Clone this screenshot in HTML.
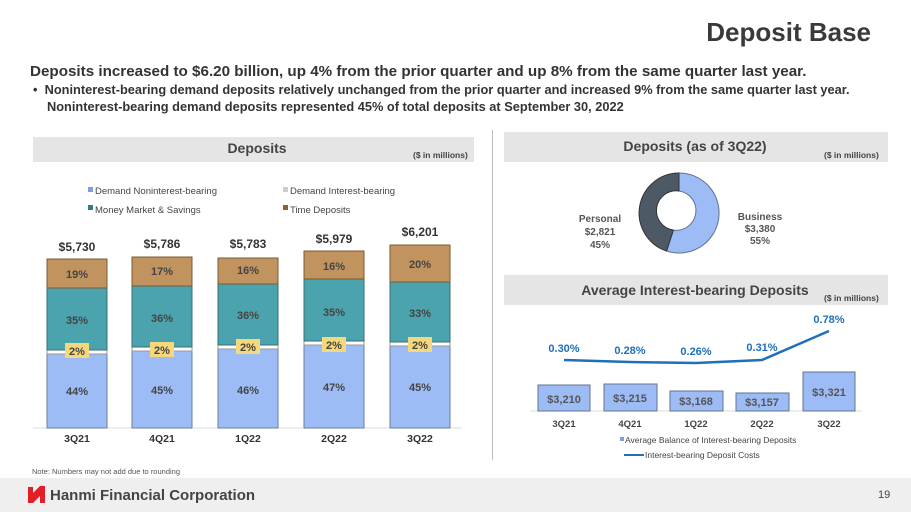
<!DOCTYPE html>
<html><head><meta charset="utf-8"><style>
body{margin:0;width:911px;height:512px;overflow:hidden;background:#fff;font-family:"Liberation Sans",Arial,sans-serif;position:relative}
.a{position:absolute;white-space:nowrap}
</style></head><body>
<div class="a" style="right:40px;top:17px;font-size:26px;font-weight:bold;color:#3a3a3a">Deposit Base</div>
<div class="a" style="left:30px;top:63px;font-size:15.2px;font-weight:bold;color:#333">Deposits increased to $6.20 billion, up 4% from the prior quarter and up 8% from the same quarter last year.</div>
<div class="a" style="left:33px;top:81px;font-size:12.8px;font-weight:bold;color:#333;white-space:normal;width:840px;line-height:17px;padding-left:14px;text-indent:-14px">•&nbsp;&nbsp;Noninterest-bearing demand deposits relatively unchanged from the prior quarter and increased 9% from the same quarter last year. Noninterest-bearing demand deposits represented 45% of total deposits at September 30, 2022</div>
<div class="a" style="left:492px;top:130px;width:1px;height:330px;background:#bbb"></div>
<svg class="a" style="left:0;top:0" width="911" height="512" font-family="Liberation Sans,Arial,sans-serif">
<rect x="33" y="137" width="441" height="25" fill="#e5e5e5"/>
<text x="257" y="153" text-anchor="middle" font-size="14" font-weight="bold" fill="#444">Deposits</text>
<text x="413" y="158" font-size="8.5" font-weight="bold" fill="#444">($ in millions)</text>
<rect x="504" y="132" width="384" height="30" fill="#e5e5e5"/>
<text x="695" y="151" text-anchor="middle" font-size="14" font-weight="bold" fill="#444">Deposits (as of 3Q22)</text>
<text x="824" y="158" font-size="8.5" font-weight="bold" fill="#444">($ in millions)</text>
<rect x="504" y="275" width="384" height="30" fill="#e5e5e5"/>
<text x="695" y="295" text-anchor="middle" font-size="14" font-weight="bold" fill="#444">Average Interest-bearing Deposits</text>
<text x="824" y="301" font-size="8.5" font-weight="bold" fill="#444">($ in millions)</text>
<g font-size="9.5" fill="#444">
<rect x="88" y="187" width="5" height="5" fill="#7f9fd8"/><text x="95" y="194">Demand Noninterest-bearing</text>
<rect x="283" y="187" width="5" height="5" fill="#ccc"/><text x="290" y="194">Demand Interest-bearing</text>
<rect x="88" y="205" width="5" height="5" fill="#2f7f8a"/><text x="95" y="213">Money Market &amp; Savings</text>
<rect x="283" y="205" width="5" height="5" fill="#8b6238"/><text x="290" y="213">Time Deposits</text>
</g>
<line x1="33" y1="428" x2="462" y2="428" stroke="#ddd"/>
<g font-size="11" font-weight="bold" fill="#444" text-anchor="middle">
<g>
<rect x="47" y="354" width="60" height="74" fill="#9dbcf5" stroke="#6a7f9a"/>
<rect x="47" y="350" width="60" height="4" fill="#fff" stroke="#999"/>
<rect x="47" y="288" width="60" height="62" fill="#4ba3ad" stroke="#3a6f77"/>
<rect x="47" y="259" width="60" height="29" fill="#c0935f" stroke="#7a5a35"/>
<text x="77" y="395">44%</text><text x="77" y="324">35%</text><text x="77" y="278">19%</text>
<rect x="65" y="343" width="24" height="15" fill="#f5d77c"/><text x="77" y="355">2%</text>
<text x="77" y="251" font-size="12" fill="#333">$5,730</text>
</g>
<g>
<rect x="132" y="351" width="60" height="77" fill="#9dbcf5" stroke="#6a7f9a"/>
<rect x="132" y="347" width="60" height="4" fill="#fff" stroke="#999"/>
<rect x="132" y="286" width="60" height="61" fill="#4ba3ad" stroke="#3a6f77"/>
<rect x="132" y="257" width="60" height="29" fill="#c0935f" stroke="#7a5a35"/>
<text x="162" y="394">45%</text><text x="162" y="322">36%</text><text x="162" y="275">17%</text>
<rect x="150" y="342" width="24" height="15" fill="#f5d77c"/><text x="162" y="354">2%</text>
<text x="162" y="248" font-size="12" fill="#333">$5,786</text>
</g>
<g>
<rect x="218" y="349" width="60" height="79" fill="#9dbcf5" stroke="#6a7f9a"/>
<rect x="218" y="345" width="60" height="4" fill="#fff" stroke="#999"/>
<rect x="218" y="284" width="60" height="61" fill="#4ba3ad" stroke="#3a6f77"/>
<rect x="218" y="258" width="60" height="26" fill="#c0935f" stroke="#7a5a35"/>
<text x="248" y="394">46%</text><text x="248" y="319">36%</text><text x="248" y="274">16%</text>
<rect x="236" y="339" width="24" height="15" fill="#f5d77c"/><text x="248" y="351">2%</text>
<text x="248" y="248" font-size="12" fill="#333">$5,783</text>
</g>
<g>
<rect x="304" y="345" width="60" height="83" fill="#9dbcf5" stroke="#6a7f9a"/>
<rect x="304" y="341" width="60" height="4" fill="#fff" stroke="#999"/>
<rect x="304" y="279" width="60" height="62" fill="#4ba3ad" stroke="#3a6f77"/>
<rect x="304" y="251" width="60" height="28" fill="#c0935f" stroke="#7a5a35"/>
<text x="334" y="391">47%</text><text x="334" y="316">35%</text><text x="334" y="270">16%</text>
<rect x="322" y="337" width="24" height="15" fill="#f5d77c"/><text x="334" y="349">2%</text>
<text x="334" y="243" font-size="12" fill="#333">$5,979</text>
</g>
<g>
<rect x="390" y="346" width="60" height="82" fill="#9dbcf5" stroke="#6a7f9a"/>
<rect x="390" y="342" width="60" height="4" fill="#fff" stroke="#999"/>
<rect x="390" y="282" width="60" height="60" fill="#4ba3ad" stroke="#3a6f77"/>
<rect x="390" y="245" width="60" height="37" fill="#c0935f" stroke="#7a5a35"/>
<text x="420" y="391">45%</text><text x="420" y="317">33%</text><text x="420" y="268">20%</text>
<rect x="408" y="337" width="24" height="15" fill="#f5d77c"/><text x="420" y="349">2%</text>
<text x="420" y="236" font-size="12" fill="#333">$6,201</text>
</g>
<g font-size="10.5" fill="#333"><text x="77" y="442">3Q21</text><text x="162" y="442">4Q21</text><text x="248" y="442">1Q22</text><text x="334" y="442">2Q22</text><text x="420" y="442">3Q22</text></g>
</g>
<path d="M679 173 A40 40 0 1 1 666.6 251 L673.4 230.1 A18 18 0 1 0 679 191 Z" fill="#9dbcf5" stroke="#5f7390"/>
<path d="M666.6 251 A40 40 0 0 1 679 173 L679 191 A18 18 0 0 0 673.4 230.1 Z" fill="#4d5a66" stroke="#333"/>
<g font-size="10" font-weight="bold" fill="#555" text-anchor="middle">
<text x="600" y="222">Personal</text><text x="600" y="235">$2,821</text><text x="600" y="248">45%</text>
<text x="760" y="220">Business</text><text x="760" y="232">$3,380</text><text x="760" y="244">55%</text>
</g>
<line x1="530" y1="411" x2="862" y2="411" stroke="#ddd"/>
<g fill="#9dbcf5" stroke="#5f7390">
<rect x="538" y="385" width="52" height="26"/><rect x="604" y="384" width="53" height="27"/><rect x="670" y="391" width="53" height="20"/><rect x="736" y="393" width="53" height="18"/><rect x="803" y="372" width="52" height="39"/>
</g>
<g font-size="11" font-weight="bold" fill="#555" text-anchor="middle">
<text x="564" y="403">$3,210</text><text x="630" y="402">$3,215</text><text x="696" y="405">$3,168</text><text x="762" y="406">$3,157</text><text x="829" y="396">$3,321</text>
</g>
<polyline points="564,360 630,362 696,363 762,360 829,331" fill="none" stroke="#1f6fba" stroke-width="2.5"/>
<g font-size="11" font-weight="bold" fill="#1f6fba" text-anchor="middle">
<text x="564" y="352">0.30%</text><text x="630" y="354">0.28%</text><text x="696" y="355">0.26%</text><text x="762" y="351">0.31%</text><text x="829" y="323">0.78%</text>
</g>
<g font-size="9.5" font-weight="bold" fill="#444" text-anchor="middle">
<text x="564" y="427">3Q21</text><text x="630" y="427">4Q21</text><text x="696" y="427">1Q22</text><text x="762" y="427">2Q22</text><text x="829" y="427">3Q22</text>
</g>
<rect x="620" y="437" width="4" height="4" fill="#7f9fd8"/>
<text x="625" y="443" font-size="8.5" fill="#444">Average Balance of Interest-bearing Deposits</text>
<line x1="624" y1="455" x2="644" y2="455" stroke="#1f6fba" stroke-width="2"/>
<text x="645" y="458" font-size="8.5" fill="#444">Interest-bearing Deposit Costs</text>
<text x="32" y="474" font-size="7.5" fill="#555">Note: Numbers may not add due to rounding</text>
<rect x="0" y="478" width="911" height="34" fill="#efefef"/>
<path d="M28 487 L33 487 L33 493 L40 486 L45 486 L45 503 L40 503 L40 496 L33 503 L28 503 Z" fill="#e01f26"/>
<text x="50" y="500" font-size="15" font-weight="bold" fill="#444">Hanmi Financial Corporation</text>
<text x="878" y="498" font-size="11" fill="#444">19</text>
</svg>
</body></html>
